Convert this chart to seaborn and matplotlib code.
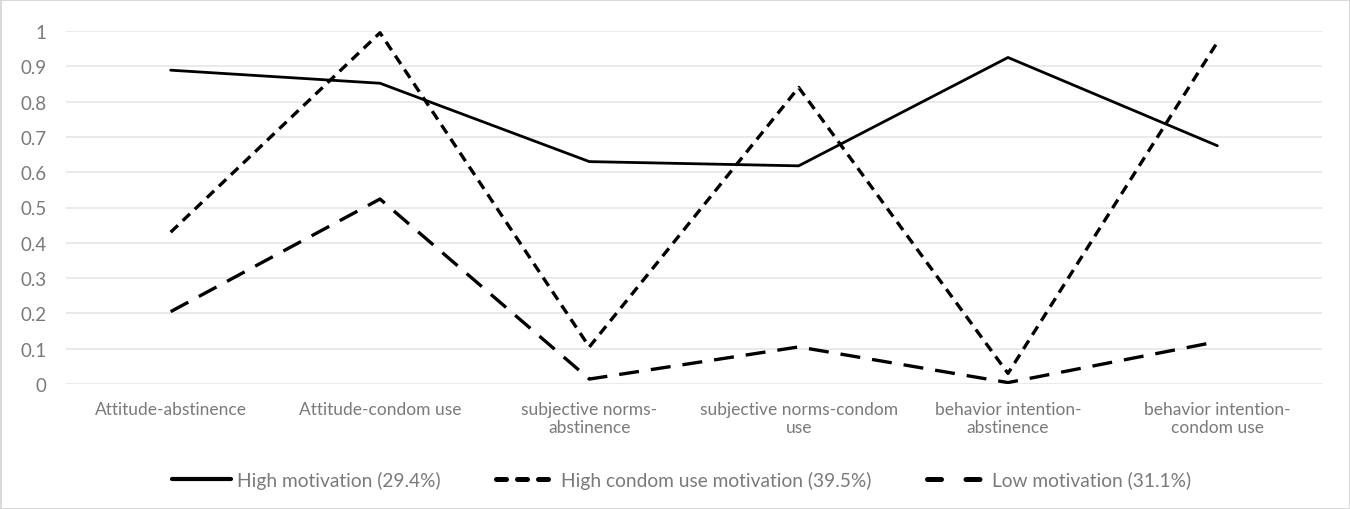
import matplotlib
matplotlib.use("Agg")
import matplotlib.pyplot as plt
import seaborn as sns
import pandas as pd

categories = ["Attitude-abstinence", "Attitude-condom use", "subjective norms-abstinence",
              "subjective norms-condom use", "behavior intention-abstinence", "behavior intention-condom use"]
tick_labels = ["Attitude-abstinence", "Attitude-condom use", "subjective norms-\nabstinence",
               "subjective norms-condom\nuse", "behavior intention-\nabstinence", "behavior intention-\ncondom use"]
high_motivation = [0.889, 0.852, 0.630, 0.618, 0.925, 0.675]
high_condom = [0.43, 0.995, 0.105, 0.84, 0.03, 0.968]
low_motivation = [0.205, 0.524, 0.014, 0.105, 0.004, 0.12]
series_names = ["High motivation (29.4%)", "High condom use motivation (39.5%)", "Low motivation (31.1%)"]
yticks = [0, 0.1, 0.2, 0.3, 0.4, 0.5, 0.6, 0.7, 0.8, 0.9, 1]

rows = []
for name, vals in zip(series_names, [high_motivation, high_condom, low_motivation]):
    for i, v in enumerate(vals):
        rows.append({"x": i, "value": v, "series": name})
df = pd.DataFrame(rows)

sns.set_style("white")
plt.rcParams["font.family"] = ["Lato", "DejaVu Sans"]

fig = plt.figure(figsize=(13.5, 5.1), dpi=100)
ax = fig.add_axes([66/1350, 1 - 385/510, (1322-66)/1350, (385-32)/510])

palette = {n: "black" for n in series_names}
dashes = {series_names[0]: "", series_names[1]: (3, 2), series_names[2]: (6, 3.6)}
sns.lineplot(data=df, x="x", y="value", hue="series", style="series", palette=palette,
             dashes=dashes, ax=ax, linewidth=2.4, sort=False)
ax.get_lines()[0].set_linewidth(2.0)

ax.set_xlim(-0.5, 5.5)
ax.set_ylim(0, 1)
ax.set_yticks(yticks)
ax.set_yticklabels([f"{t:g}" for t in yticks])
ax.set_xticks(range(len(categories)))
ax.set_xticklabels(tick_labels)
ax.set_xlabel("")
ax.set_ylabel("")
ax.yaxis.grid(True, color="#e6e6e6", linewidth=1.2)
ax.set_axisbelow(True)
for s in ax.spines.values():
    s.set_visible(False)
ax.tick_params(axis="both", length=0, colors="#7a7a7a")
ax.tick_params(axis="x", pad=12, labelsize=12.5)
ax.tick_params(axis="y", pad=14, labelsize=13.5)

handles, labels = ax.get_legend_handles_labels()
leg = ax.legend(handles, labels, loc="lower center", bbox_to_anchor=(0.49, -0.345), ncol=3,
                frameon=False, fontsize=13.8, handlelength=3.1, handletextpad=0.3, columnspacing=2.9)
lh = leg.get_lines()
lh[0].set_linewidth(3.0)
lh[1].set_linewidth(3.6)
lh[1].set_dash_capstyle("round")
lh[1].set_dashes((2.0, 2.2))
lh[2].set_linewidth(3.6)
lh[2].set_dash_capstyle("round")
lh[2].set_dashes((2.8, 4.9))
for t in leg.get_texts():
    t.set_color("#7a7a7a")

fig.patch.set_edgecolor("#d9d9d9")
fig.patch.set_linewidth(2)
fig.savefig("out.png", dpi=100, edgecolor=fig.get_edgecolor())
